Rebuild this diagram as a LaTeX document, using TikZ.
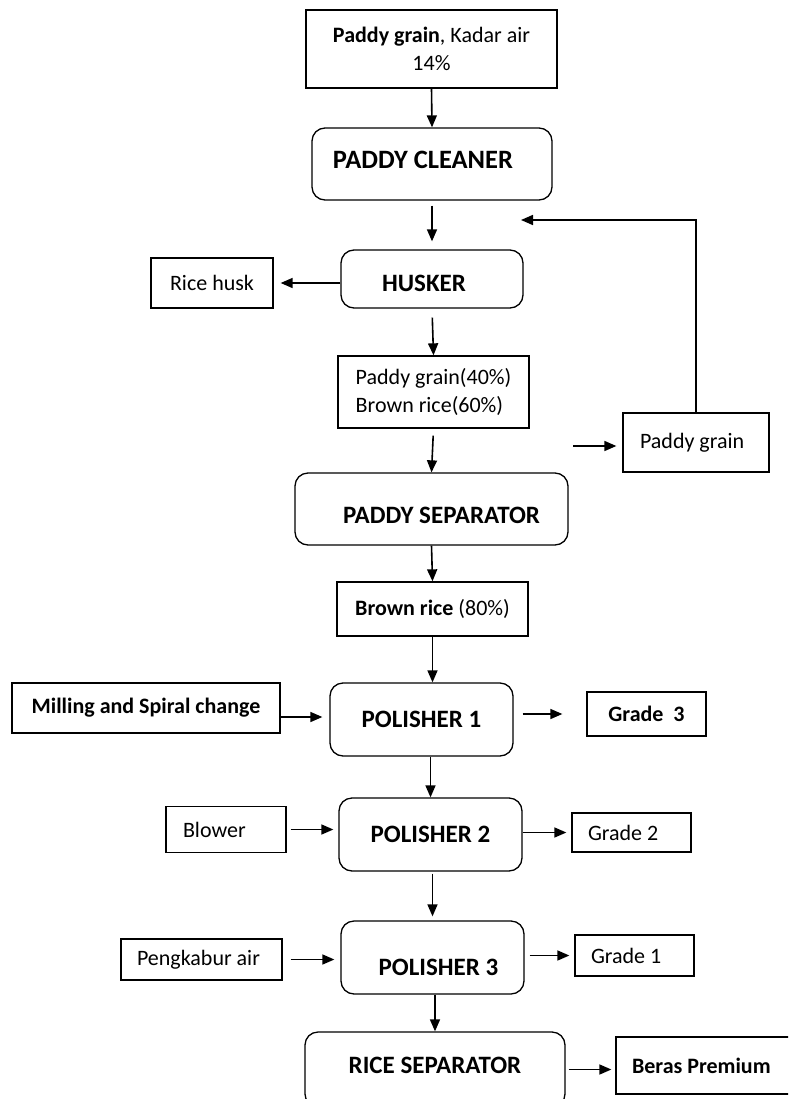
\documentclass[tikz,border=0pt]{standalone}
\usepackage{fontspec}
\setmainfont{Carlito}
\usetikzlibrary{arrows.meta}

\tikzset{
	box/.style={draw, line width=1.3pt, inner sep=0pt, font=\fontsize{22}{28}\selectfont},
	proc/.style={box, rounded corners=13pt, font=\fontsize{25}{28}\selectfont\bfseries},
	arr/.style={line width=1.6pt, -{Triangle[length=12pt,width=10pt]}},
}

\begin{document}
\begin{tikzpicture}[x=1pt,y=-1pt]
	\useasboundingbox (0,0) rectangle (788,1099);
	\clip (0,0) rectangle (788,1099);
	\node[box, minimum width=251pt, minimum height=78pt, align=center] (feed) at (431.5,49) {\textbf{Paddy grain}, Kadar air\\14\%};
	\node[proc, minimum width=240pt, minimum height=72pt, font=\fontsize{26.5}{28}\selectfont\bfseries, text height=17pt, text depth=8pt] (cleaner) at (432,164) {PADDY CLEANER\hspace*{18pt}};
	\node[proc, minimum width=182pt, minimum height=58pt, text height=24pt, text depth=0pt] (husker) at (432,279) {HUSKER\hspace*{16pt}};
	\node[box, minimum width=122pt, minimum height=50pt] (husk) at (212,283) {Rice husk};
	\node[box, minimum width=191pt, minimum height=72pt, align=left] (mix) at (433.5,392) {Paddy grain(40\%)\\Brown rice(60\%)};
	\node[proc, minimum width=273pt, minimum height=72pt, text height=28pt, text depth=0pt] (sep) at (431.5,509) {\hspace*{20pt}PADDY SEPARATOR};
	\node[box, minimum height=59pt, text width=112pt, inner xsep=17pt, align=flush left] (grain) at (696,442.5) {Paddy grain};
	\node[box, minimum width=191pt, minimum height=54pt] (brown) at (432.5,609) {\textbf{Brown rice} (80\%)};
	\node[proc, minimum width=183pt, minimum height=73pt] (pol1) at (421.5,719.5) {POLISHER 1};
	\node[box, minimum width=268pt, minimum height=50pt, font=\fontsize{22}{28}\selectfont\bfseries] (mill) at (146,708) {Milling and Spiral change};
	\node[box, minimum width=119pt, minimum height=44pt, font=\fontsize{22}{28}\selectfont\bfseries] (g3) at (646.5,714) {Grade\ \ 3};
	\node[proc, minimum width=183pt, minimum height=73pt] (pol2) at (430.5,834.5) {POLISHER 2};
	\node[box, minimum height=46pt, text width=86pt, inner xsep=17pt, align=flush left] (blower) at (226,829.5) {Blower};
	\node[box, minimum height=39pt, text width=87pt, inner xsep=16pt, align=flush left] (g2) at (631.5,832.5) {Grade 2};
	\node[proc, minimum width=183pt, minimum height=73pt, text height=36pt, text depth=0pt] (pol3) at (432.5,957.5) {\hspace*{12pt}POLISHER 3};
	\node[box, minimum height=41pt, text width=129pt, inner xsep=16pt, align=flush left] (peng) at (201.5,959.5) {Pengkabur air};
	\node[box, minimum height=41pt, text width=87pt, inner xsep=16pt, align=flush left] (g1) at (634.5,955.5) {Grade 1};
	\node[proc, minimum width=260pt, minimum height=75pt, text height=16pt, text depth=8pt] (rice) at (435,1069.5) {RICE SEPARATOR};
	\node[box, minimum height=57pt, text width=152pt, inner xsep=16pt, align=flush left, font=\fontsize{22}{28}\selectfont\bfseries] (beras) at (708,1065.5) {Beras Premium};
	\coordinate (spill) at (573,446);
	\coordinate (back) at (521,220);

	\draw[arr] (feed.south) -- (cleaner.north);
	\draw[arr, shorten <=5pt, shorten >=8pt] (cleaner.south) -- (husker.north);
	\draw[arr, shorten >=7pt] (husk.east -| husker.west) -- (husk.east);
	\draw[arr, shorten <=9pt] (husker.south) -- (mix.north);
	\draw[arr, shorten <=7pt] (mix.south) -- (sep.north);
	\draw[arr, shorten >=6pt] (spill) -- (spill -| grain.west);
	\draw[arr] (grain.north) |- (back);
	\draw[arr] (sep.south) -- (brown.north);
	\draw[arr] (brown.south) -- (brown.south |- pol1.north);
	\draw[arr, shorten >=7pt] ([yshift=-9pt]mill.east) -- ([yshift=-9pt]mill.east -| pol1.west);
	\draw[arr, shorten <=9pt, shorten >=24pt] (g3.west -| pol1.east) -- (g3.west);
	\draw[arr] (pol2.north |- pol1.south) -- (pol2.north);
	\draw[arr, shorten <=4pt, shorten >=5pt] (blower.east) -- (blower.east -| pol2.west);
	\draw[arr, shorten >=5pt] (g2.west -| pol2.east) -- (g2.west);
	\draw[arr, shorten <=2pt, shorten >=4pt] (pol3.north |- pol2.south) -- (pol3.north);
	\draw[arr, shorten <=8pt, shorten >=6pt] (peng.east) -- (peng.east -| pol3.west);
	\draw[arr, shorten <=5pt, shorten >=5pt] (g1.west -| pol3.east) -- (g1.west);
	\draw[arr] (rice.north |- pol3.south) -- (rice.north);
	\draw[arr, shorten <=3pt, shorten >=4pt] (rice.east) -- (rice.east -| beras.west);
\end{tikzpicture}
\end{document}
